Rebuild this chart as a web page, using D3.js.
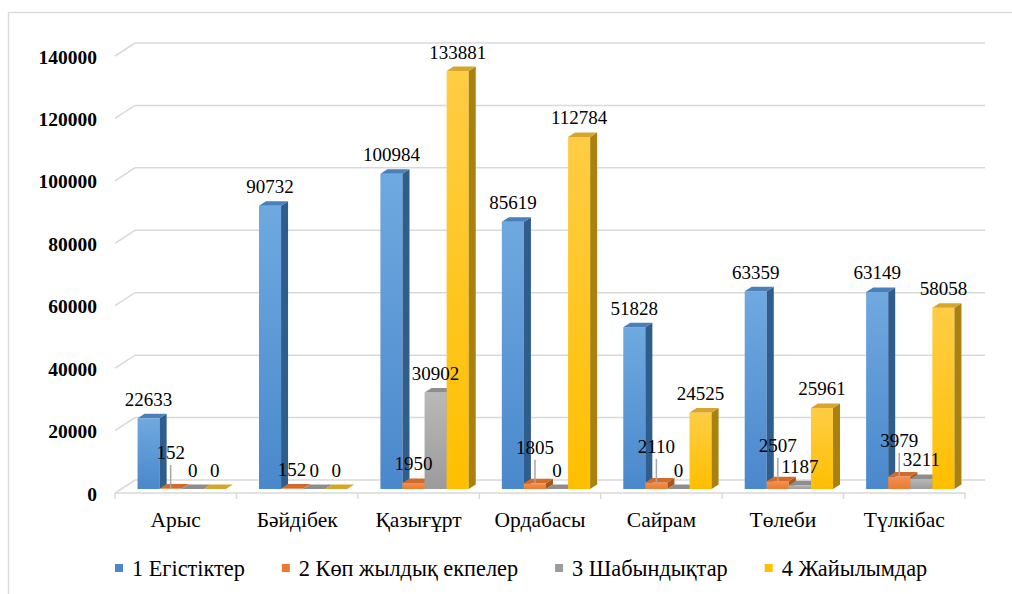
<!DOCTYPE html>
<html>
<head>
<meta charset="utf-8">
<script src="https://cdn.jsdelivr.net/npm/d3@7"></script>
<style>
  html, body { margin: 0; padding: 0; background: #fff; overflow: hidden; }
</style>
</head>
<body>
<div id="chart"></div>
<script>
const categories = ["Арыс", "Бәйдібек", "Қазығұрт", "Ордабасы", "Сайрам", "Төлеби", "Түлкібас"];
const seriesNames = ["1 Егістіктер", "2 Көп жылдық екпелер", "3 Шабындықтар", "4 Жайылымдар"];
const arable = [22633, 90732, 100984, 85619, 51828, 63359, 63149];
const perennial = [152, 152, 1950, 1805, 2110, 2507, 3979];
const hayfields = [0, 0, 30902, 0, 0, 1187, 3211];
const pastures = [0, 0, 133881, 112784, 24525, 25961, 58058];
const yTicks = [0, 20000, 40000, 60000, 80000, 100000, 120000, 140000];

const seriesValues = [arable, perennial, hayfields, pastures];

const FONT = "'Liberation Serif', 'Times New Roman', 'DejaVu Serif', serif";

// face colours for the 3d columns: front gradient top/bottom, top face, side face
const COLORS = [
  { front: ["#6fa9e0", "#4a88cc"], top: "#4b7fb9", side: "#2f5d8c" },
  { front: ["#f39150", "#ec7a2e"], top: "#d46a2a", side: "#a9561c" },
  { front: ["#b9b9b9", "#9b9b9b"], top: "#8d8d8d", side: "#6c6c6c" },
  { front: ["#ffcd45", "#ffbf00"], top: "#d6a52c", side: "#a9810f" }
];

// labels that were pulled up with a leader line (series index -> categories)
const LEADER_LABELS = { 1: ["Арыс", "Ордабасы", "Сайрам", "Төлеби", "Түлкібас"] };
const LEADER_LIFT = 17;

const W = 1012, H = 594;
const FRONT_LEFT = 115, FRONT_RIGHT = 965;
const FRONT_ZERO = 493, FRONT_TOP = 56;
const WALL = { dx: 20, dy: -13 };      // back wall offset
const BAR_SHIFT = { dx: 6, dy: -4 };   // bar front face offset from front plane
const BAR_DEPTH = { dx: 7, dy: -4.5 };

const svg = d3.select("#chart").append("svg")
  .attr("width", W)
  .attr("height", H);

svg.append("rect")
  .attr("x", 8.5).attr("y", 12.5)
  .attr("width", 1200).attr("height", 800)
  .attr("fill", "none")
  .attr("stroke", "#d9d9d9")
  .attr("stroke-width", 1.3);

const x = d3.scaleBand()
  .domain(categories)
  .range([FRONT_LEFT, FRONT_RIGHT])
  .paddingInner(0)
  .paddingOuter(0);

// 4 bars + 150% gap width
const barW = x.bandwidth() / 5.5;
const groupPad = barW * 0.75;

const y = d3.scaleLinear()
  .domain([0, 140000])
  .range([FRONT_ZERO, FRONT_TOP]);

// gridlines on side + back wall
const grid = svg.append("g").attr("fill", "none").attr("stroke", "#d9d9d9").attr("stroke-width", 1.5);
grid.selectAll("path")
  .data(yTicks)
  .enter()
  .append("path")
  .attr("d", d => {
    const fy = y(d);
    return `M${FRONT_LEFT},${fy}L${FRONT_LEFT + WALL.dx},${fy + WALL.dy}L${FRONT_RIGHT + WALL.dx},${fy + WALL.dy}`;
  });

// y axis labels
const yAxis = svg.append("g")
  .attr("transform", `translate(${FRONT_LEFT},0)`)
  .call(d3.axisLeft(y).tickValues(yTicks).tickSize(0).tickPadding(18).tickFormat(d3.format("d")));
yAxis.select(".domain").remove();
yAxis.selectAll("text")
  .attr("dy", "0.36em")
  .attr("fill", "#000")
  .style("font-family", FONT)
  .style("font-size", "19.5px")
  .style("font-weight", "bold");

// category axis line and boundary ticks
svg.append("line")
  .attr("x1", FRONT_LEFT).attr("x2", FRONT_RIGHT)
  .attr("y1", FRONT_ZERO).attr("y2", FRONT_ZERO)
  .attr("stroke", "#d9d9d9").attr("stroke-width", 1.5);

const bounds = categories.map(c => x(c)).concat([x(categories[categories.length - 1]) + x.bandwidth()]);
svg.append("g").selectAll("line")
  .data(bounds)
  .enter()
  .append("line")
  .attr("x1", d => d).attr("x2", d => d)
  .attr("y1", FRONT_ZERO).attr("y2", FRONT_ZERO + 6)
  .attr("stroke", "#d9d9d9").attr("stroke-width", 1.5);

const xAxis = svg.append("g")
  .attr("transform", `translate(0,${FRONT_ZERO})`)
  .call(d3.axisBottom(x).tickSize(0).tickPadding(19));
xAxis.select(".domain").remove();
xAxis.selectAll("text")
  .attr("fill", "#000")
  .style("font-family", FONT)
  .style("font-size", "21.5px");

// gradients
const defs = svg.append("defs");
COLORS.forEach((c, i) => {
  const g = defs.append("linearGradient")
    .attr("id", `front${i}`)
    .attr("x1", 0).attr("y1", 0).attr("x2", 0).attr("y2", 1);
  g.append("stop").attr("offset", "0%").attr("stop-color", c.front[0]);
  g.append("stop").attr("offset", "100%").attr("stop-color", c.front[1]);
});

// build bar records
const bars = [];
categories.forEach((cat, ci) => {
  seriesValues.forEach((vals, si) => {
    const x0 = x(cat) + groupPad + si * barW + BAR_SHIFT.dx;
    bars.push({
      cat, si, value: vals[ci],
      x0, x1: x0 + barW,
      yt: y(vals[ci]) + BAR_SHIFT.dy,
      yb: y(0) + BAR_SHIFT.dy
    });
  });
});

const barG = svg.append("g").selectAll("g")
  .data(bars)
  .enter()
  .append("g");

barG.append("rect")
  .attr("x", d => d.x0)
  .attr("y", d => d.yt)
  .attr("width", barW)
  .attr("height", d => Math.max(0, d.yb - d.yt))
  .attr("fill", d => `url(#front${d.si})`);

barG.append("path")
  .attr("d", d => `M${d.x1},${d.yt}L${d.x1 + BAR_DEPTH.dx},${d.yt + BAR_DEPTH.dy}L${d.x1 + BAR_DEPTH.dx},${d.yb + BAR_DEPTH.dy}L${d.x1},${d.yb}Z`)
  .attr("fill", d => COLORS[d.si].side);

barG.append("path")
  .attr("d", d => `M${d.x0},${d.yt}L${d.x1},${d.yt}L${d.x1 + BAR_DEPTH.dx},${d.yt + BAR_DEPTH.dy}L${d.x0 + BAR_DEPTH.dx},${d.yt + BAR_DEPTH.dy}Z`)
  .attr("fill", d => COLORS[d.si].top);

// data labels
const isLifted = d => (LEADER_LABELS[d.si] || []).includes(d.cat);
const labelX = d => (d.x0 + d.x1) / 2;
const labelY = d => d.yt + BAR_DEPTH.dy - 8 - (isLifted(d) ? LEADER_LIFT : 0);

const labels = svg.append("g");
labels.selectAll("line")
  .data(bars.filter(isLifted))
  .enter()
  .append("line")
  .attr("x1", labelX).attr("x2", labelX)
  .attr("y1", d => labelY(d) + 6)
  .attr("y2", d => d.yt)
  .attr("stroke", "#a6a6a6")
  .attr("stroke-width", 1.5);

labels.selectAll("text")
  .data(bars)
  .enter()
  .append("text")
  .attr("x", labelX)
  .attr("y", labelY)
  .attr("text-anchor", "middle")
  .attr("fill", "#000")
  .style("font-family", FONT)
  .style("font-size", "19px")
  .text(d => d.value);

// legend
const legend = svg.append("g").attr("transform", "translate(115,568)");
let lx = 0;
seriesNames.forEach((name, i) => {
  const item = legend.append("g").attr("transform", `translate(${lx},0)`);
  item.append("rect")
    .attr("x", 0).attr("y", -4)
    .attr("width", 8).attr("height", 8)
    .attr("fill", COLORS[i].front[1]);
  const t = item.append("text")
    .attr("x", 17).attr("y", 7.5)
    .attr("fill", "#000")
    .style("font-family", FONT)
    .style("font-size", "22.3px")
    .text(name);
  lx += 17 + t.node().getComputedTextLength() + 37;
});
</script>
</body>
</html>
